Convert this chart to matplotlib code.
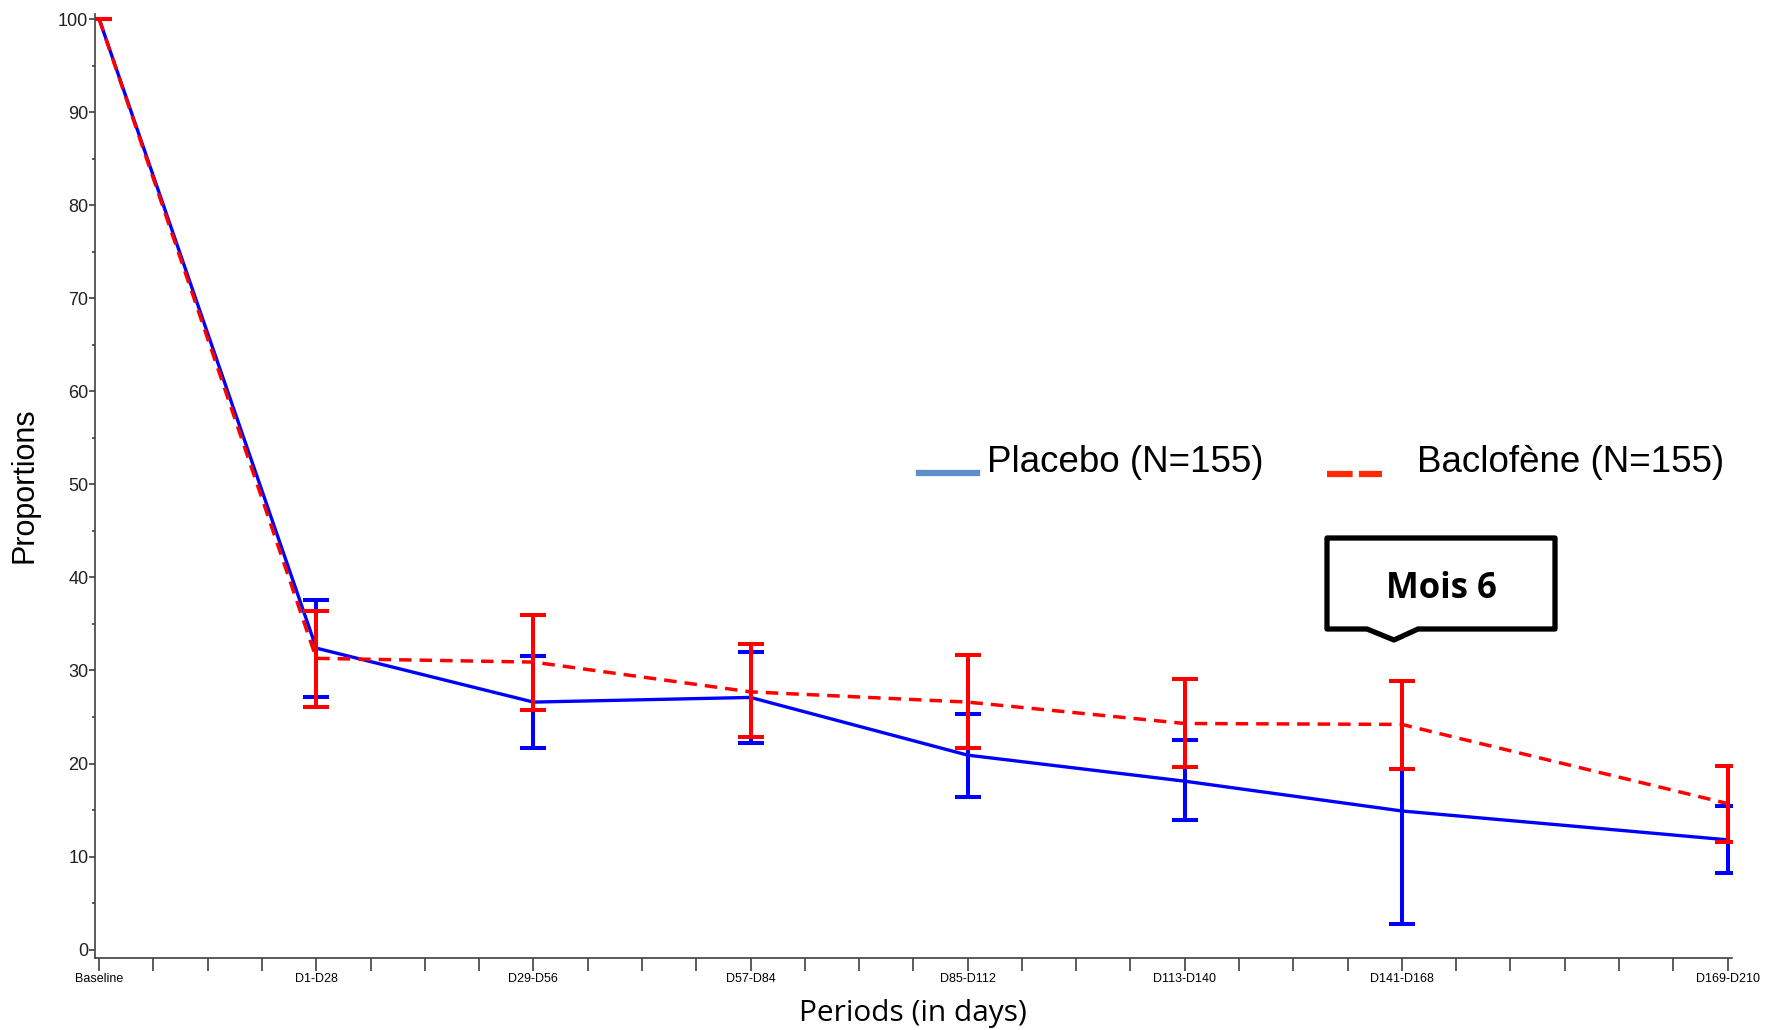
import matplotlib
matplotlib.use('Agg')
import matplotlib.pyplot as plt
from matplotlib.lines import Line2D
from matplotlib.patches import Polygon
from matplotlib.ticker import MultipleLocator

# periods (x placed in days) and proportions
periods = ['Baseline', 'D1-D28', 'D29-D56', 'D57-D84', 'D85-D112',
           'D113-D140', 'D141-D168', 'D169-D210']
period_days = [0, 28, 56, 84, 112, 140, 168, 210]

placebo = [100, 32.4, 26.6, 27.1, 20.9, 18.1, 14.9, 11.8]
placebo_low = [100, 27.2, 21.7, 22.2, 16.4, 13.9, 2.7, 8.2]
placebo_high = [100, 37.6, 31.6, 32.0, 25.3, 22.5, 19.4, 15.4]

baclofen = [100, 31.3, 30.9, 27.7, 26.6, 24.3, 24.2, 15.7]
baclofen_low = [100, 26.1, 25.7, 22.8, 21.7, 19.6, 19.4, 11.6]
baclofen_high = [100, 36.4, 36.0, 32.8, 31.7, 29.1, 28.9, 19.7]

narrow = ['Liberation Sans Narrow', 'Liberation Sans', 'DejaVu Sans']

W, H = 1768, 1030
fig = plt.figure(figsize=(W / 100, H / 100), dpi=100)
ax = fig.add_axes([95.3 / W, 1 - 958 / H, (1732.2 - 95.3) / W, (958 - 14.4) / H])


def err(vals, low, high):
    return [[v - l for v, l in zip(vals, low)], [h - v for v, h in zip(vals, high)]]


ax.errorbar(period_days, placebo, yerr=err(placebo, placebo_low, placebo_high),
            color='#0000FF', lw=2.4, elinewidth=2.9, capsize=9.7, capthick=2.9, zorder=3)
ax.errorbar(period_days, baclofen, yerr=err(baclofen, baclofen_low, baclofen_high),
            color='#FF0000', lw=2.5, ls=(0, (3.6, 2.3)), elinewidth=2.9, capsize=9.7,
            capthick=2.9, zorder=4)

ax.set_xlim(-0.5, 210.6)
ax.set_ylim(-0.9, 100.5)

for s in ['top', 'right']:
    ax.spines[s].set_visible(False)
for s in ['left', 'bottom']:
    ax.spines[s].set_color('#404040')
    ax.spines[s].set_linewidth(1.2)

ax.set_xticks(period_days, periods)
ax.xaxis.set_minor_locator(MultipleLocator(7))
ax.tick_params(axis='x', which='both', length=9, width=1.2, color='#404040', pad=1.5)
ax.set_yticks(range(0, 101, 10))
ax.yaxis.set_minor_locator(MultipleLocator(5))
ax.tick_params(axis='y', which='major', length=4, width=1.2, color='#404040', pad=1)
ax.tick_params(axis='y', which='minor', length=2.5, width=1.2, color='#404040')

for lab in ax.get_xticklabels():
    lab.set_family(narrow)
    lab.set_fontsize(9)
for lab in ax.get_yticklabels():
    lab.set_family(narrow)
    lab.set_fontsize(13)
    lab.set_color('#202020')

fig.text(25 / W, 1 - 485 / H, 'Proportions', rotation=90, ha='center', va='center',
         fontsize=22, family=['Liberation Sans', 'DejaVu Sans'])
fig.text(913 / W, 1 - 1013 / H, 'Periods (in days)', ha='center', va='center',
         fontsize=21.5, family=['Open Sans', 'DejaVu Sans'])

# legend drawn by hand (overlay style)
fig.add_artist(Line2D([919 / W, 977 / W], [1 - 473 / H, 1 - 473 / H], color='#5B8FC9', lw=4.5))
fig.text(987 / W, 1 - 463 / H, 'Placebo (N=155)', ha='left', va='center', fontsize=26.5, family=narrow)
fig.add_artist(Line2D([1327 / W, 1382 / W], [1 - 474 / H, 1 - 474 / H], color='#FF2A00', lw=4.5,
                      ls=(0, (4.1, 1.0))))
fig.text(1417 / W, 1 - 463 / H, 'Baclofène (N=155)', ha='left', va='center', fontsize=26.5, family=narrow)

# "Mois 6" callout
box = [(1327, 538), (1555, 538), (1555, 629), (1418, 629), (1394, 640), (1367, 629), (1327, 629)]
fig.add_artist(Polygon([(x / W, 1 - y / H) for x, y in box], closed=True, transform=fig.transFigure,
                       facecolor='white', edgecolor='black', lw=3.8, joinstyle='round'))
fig.text(1441 / W, 1 - 589 / H, 'Mois 6', ha='center', va='center', fontsize=25, fontweight='bold',
         family=['Open Sans', 'DejaVu Sans'])

fig.savefig('out.png', dpi=100)
